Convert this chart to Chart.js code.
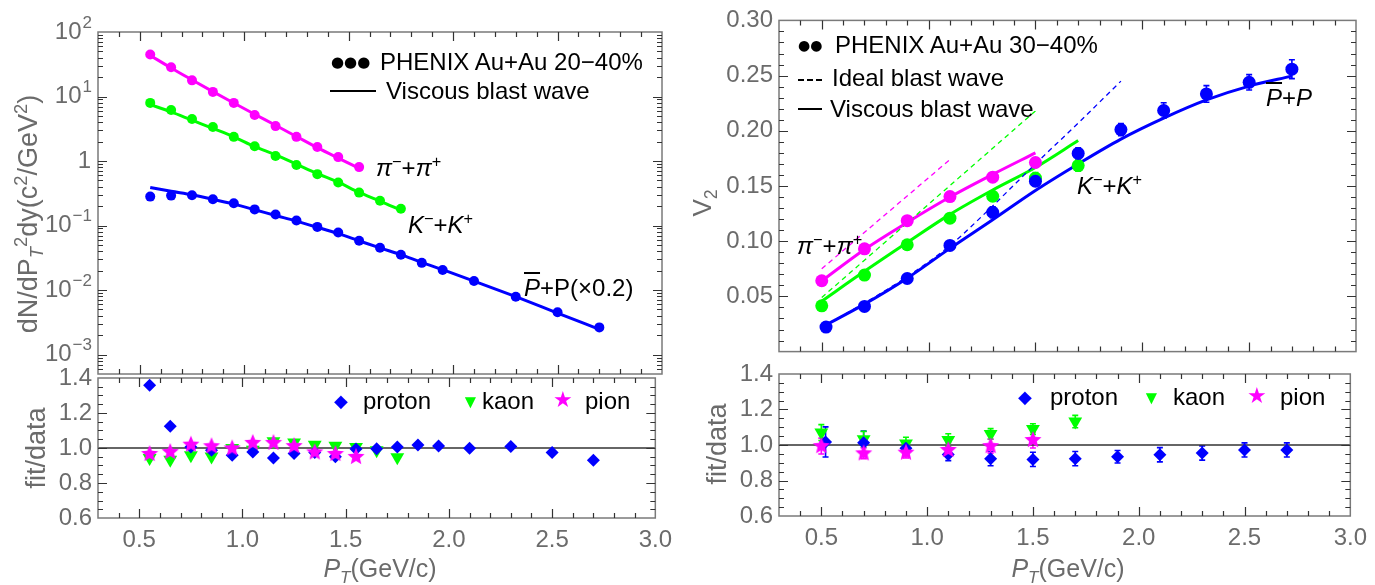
<!DOCTYPE html>
<html>
<head>
<meta charset="utf-8">
<script src="https://cdn.jsdelivr.net/npm/chart.js@4.4.0/dist/chart.umd.min.js"></script>
<style>
  body { margin: 0; background: #fff; }
  #fig { position: relative; width: 1375px; height: 585px; overflow: hidden;
         font-family: "Liberation Sans", Arial, sans-serif; }
  .box { position: absolute; }
  .t { position: absolute; white-space: nowrap; font-size: 24px; line-height: 1; color: #000;
       transform: translateY(-50%); }
  .dots { font-family: "DejaVu Sans", sans-serif; }
  .ax { position: absolute; white-space: nowrap; color: #6b6b6b; line-height: 1; }
  .rot { transform: translate(-50%, -50%) rotate(-90deg); }
  .hx { transform: translate(-50%, -50%); }
  sup, sub { font-size: 68%; line-height: 0; }
  .ln { position: absolute; height: 2px; background: #000; }
  .dash { position: absolute; height: 2px;
          background: repeating-linear-gradient(to right, #000 0 6px, transparent 6px 9px); }
</style>
</head>
<body>
<div id="fig">
  <div class="box" style="left:0;top:0;width:680px;height:380px"><canvas id="specChart" width="680" height="380"></canvas></div>
  <div class="box" style="left:0;top:356px;width:680px;height:229px"><canvas id="specRatio" width="680" height="229"></canvas></div>
  <div class="box" style="left:690px;top:0;width:685px;height:372px"><canvas id="v2Chart" width="685" height="372"></canvas></div>
  <div class="box" style="left:690px;top:352px;width:685px;height:233px"><canvas id="v2Ratio" width="685" height="233"></canvas></div>

  <!-- axis titles -->
  <div class="ax rot" style="left:28px;top:214px;font-size:27px">dN/dP<sub><i>T</i></sub><sup>2</sup>dy(c<sup>2</sup>/GeV<sup>2</sup>)</div>
  <div class="ax rot" style="left:36px;top:448px;font-size:27px">fit/data</div>
  <div class="ax hx" style="left:380px;top:568px;font-size:25px"><i>P</i><sub><i>T</i></sub>(GeV/c)</div>
  <div class="ax rot" style="left:702px;top:203px;font-size:26px">V<sub>2</sub></div>
  <div class="ax rot" style="left:717px;top:444px;font-size:27px">fit/data</div>
  <div class="ax hx" style="left:1068px;top:568px;font-size:25px"><i>P</i><sub><i>T</i></sub>(GeV/c)</div>

  <!-- left legend + labels -->
  <div class="t dots" style="left:331px;top:62px;font-size:15px">●●●</div>
  <div class="t" style="left:380px;top:62px">PHENIX Au+Au 20−40%</div>
  <div class="ln" style="left:330px;top:90px;width:46px"></div>
  <div class="t" style="left:386px;top:91px">Viscous blast wave</div>
  <div class="t" style="left:376px;top:168px"><i>π</i><sup>−</sup>+<i>π</i><sup>+</sup></div>
  <div class="t" style="left:408px;top:225px"><i>K</i><sup>−</sup>+<i>K</i><sup>+</sup></div>
  <div class="t" style="left:524px;top:288px"><span style="text-decoration:overline"><i>P</i></span>+P(×0.2)</div>

  <div class="t" style="left:334px;top:401px;font-size:18px;color:#0000ff">◆</div>
  <div class="t" style="left:363px;top:401px">proton</div>
  <div class="t" style="left:461px;top:401px;font-size:19px;color:#00ff00">▼</div>
  <div class="t" style="left:482px;top:401px">kaon</div>
  <div class="t" style="left:553px;top:400px;font-size:22px;color:#ff00ff">★</div>
  <div class="t" style="left:585px;top:401px">pion</div>

  <!-- right legend + labels -->
  <div class="t dots" style="left:798px;top:45px;font-size:14px">●●</div>
  <div class="t" style="left:835px;top:45px">PHENIX Au+Au 30−40%</div>
  <div class="dash" style="left:798px;top:79px;width:24px"></div>
  <div class="t" style="left:832px;top:78px">Ideal blast wave</div>
  <div class="ln" style="left:798px;top:108px;width:24px"></div>
  <div class="t" style="left:830px;top:109px">Viscous blast wave</div>
  <div class="t" style="left:797px;top:246px"><i>π</i><sup>−</sup>+<i>π</i><sup>+</sup></div>
  <div class="t" style="left:1077px;top:186px"><i>K</i><sup>−</sup>+<i>K</i><sup>+</sup></div>
  <div class="t" style="left:1266px;top:98px"><span style="text-decoration:overline"><i>P</i></span>+<i>P</i></div>

  <div class="t" style="left:1018px;top:397px;font-size:18px;color:#0000ff">◆</div>
  <div class="t" style="left:1050px;top:397px">proton</div>
  <div class="t" style="left:1142px;top:397px;font-size:19px;color:#00ff00">▼</div>
  <div class="t" style="left:1173px;top:397px">kaon</div>
  <div class="t" style="left:1247px;top:396px;font-size:22px;color:#ff00ff">★</div>
  <div class="t" style="left:1280px;top:397px">pion</div>
</div>

<script>
// ---- spectra, PHENIX Au+Au 20-40% ----
const pionPt = [0.55, 0.65, 0.75, 0.85, 0.95, 1.05, 1.15, 1.25, 1.35, 1.45, 1.55];
const pionSpec = [44.8, 28.4, 17.8, 11.8, 7.96, 5.17, 3.48, 2.37, 1.65, 1.15, 0.805];
const pionSpecFit = [43.3, 27.7, 18.1, 11.9, 7.94, 5.32, 3.58, 2.40, 1.61, 1.11, 0.77];
const pionRatio = [0.966, 0.977, 1.019, 1.010, 0.998, 1.029, 1.029, 1.011, 0.975, 0.966, 0.949];

const kaonPt = [0.55, 0.65, 0.75, 0.85, 0.95, 1.05, 1.15, 1.25, 1.35, 1.45, 1.55, 1.65, 1.75];
const kaonSpec = [7.96, 6.19, 4.48, 3.36, 2.37, 1.69, 1.20, 0.866, 0.626, 0.464, 0.324, 0.243, 0.182];
const kaonSpecFit = [7.5, 5.78, 4.29, 3.2, 2.37, 1.67, 1.25, 0.894, 0.638, 0.47, 0.326, 0.24, 0.172];
const kaonRatio = [0.943, 0.933, 0.958, 0.952, 1.0, 0.99, 1.038, 1.032, 1.019, 1.013, 1.006, 0.987, 0.947];

const protonPt = [0.55, 0.65, 0.75, 0.85, 0.95, 1.05, 1.15, 1.25, 1.35, 1.45, 1.55, 1.65, 1.75, 1.85, 1.95, 2.1, 2.3, 2.5, 2.7];
const protonSpec = [0.281, 0.291, 0.294, 0.255, 0.221, 0.178, 0.148, 0.120, 0.0953, 0.0778, 0.0583, 0.0453, 0.0352, 0.0264, 0.0205, 0.0138, 0.00787, 0.00453, 0.00264];
const protonSpecFit = [0.39, 0.34, 0.30, 0.256, 0.215, 0.176, 0.143, 0.117, 0.094, 0.075, 0.058, 0.045, 0.0354, 0.0268, 0.0207, 0.0138, 0.0079, 0.0044, 0.00246];
const protonRatio = [1.358, 1.124, 1.006, 0.987, 0.958, 0.977, 0.943, 0.968, 0.975, 0.950, 0.994, 0.996, 1.006, 1.017, 1.011, 0.998, 1.008, 0.975, 0.930];

// ---- v2, PHENIX Au+Au 30-40% ----
const v2PionPt = [0.5, 0.7, 0.9, 1.1, 1.3, 1.5];
const v2Pion = [0.0642, 0.0931, 0.1186, 0.1404, 0.158, 0.1713];
const v2PionErr = [0.002, 0.002, 0.003, 0.004, 0.004, 0.004];
const v2PionVisc = [0.064, 0.0925, 0.117, 0.140, 0.1605, 0.180];
const v2PionIdealPt = [0.5, 1.1];
const v2PionIdeal = [0.075, 0.174];
const v2PionRatio = [0.994, 0.953, 0.957, 0.972, 0.994, 1.028];
const v2PionRatioErr = [0.045, 0.03, 0.03, 0.04, 0.04, 0.045];

const v2KaonPt = [0.5, 0.7, 0.9, 1.1, 1.3, 1.5, 1.7];
const v2Kaon = [0.0415, 0.0693, 0.0968, 0.1209, 0.1407, 0.1571, 0.1685];
const v2KaonErr = [0.002, 0.002, 0.002, 0.003, 0.004, 0.005, 0.005];
const v2KaonVisc = [0.0457, 0.0727, 0.0988, 0.1243, 0.1464, 0.1668, 0.1912];
const v2KaonIdealPt = [0.5, 1.5];
const v2KaonIdeal = [0.049, 0.218];
const v2KaonRatio = [1.07, 1.032, 1.009, 1.028, 1.062, 1.09, 1.132];
const v2KaonRatioErr = [0.045, 0.045, 0.035, 0.035, 0.03, 0.03, 0.035];

const v2ProtonPt = [0.52, 0.7, 0.9, 1.1, 1.3, 1.5, 1.7, 1.9, 2.1, 2.3, 2.5, 2.7];
const v2Proton = [0.0222, 0.0409, 0.0662, 0.0962, 0.1262, 0.1543, 0.1795, 0.2011, 0.2184, 0.2334, 0.2439, 0.2558];
const v2ProtonErr = [0.002, 0.002, 0.003, 0.003, 0.005, 0.004, 0.005, 0.0055, 0.007, 0.0075, 0.007, 0.0085];
const v2ProtonViscPt = [0.5, 0.7, 0.9, 1.1, 1.3, 1.5, 1.7, 1.9, 2.1, 2.3, 2.5, 2.7];
const v2ProtonVisc = [0.0222, 0.043, 0.0665, 0.0935, 0.1195, 0.146, 0.170, 0.1925, 0.2115, 0.228, 0.2405, 0.2495];
const v2ProtonIdealPt = [0.5, 0.7, 0.9, 1.1, 1.3, 1.5, 1.7, 1.9];
const v2ProtonIdeal = [0.022, 0.044, 0.068, 0.096, 0.132, 0.170, 0.207, 0.245];
const v2ProtonRatio = [1.017, 1.013, 0.981, 0.947, 0.923, 0.919, 0.923, 0.934, 0.945, 0.955, 0.972, 0.972];
const v2ProtonRatioErr = [0.085, 0.065, 0.04, 0.035, 0.04, 0.04, 0.04, 0.035, 0.04, 0.04, 0.04, 0.04];

// ---- axes ----
const ptRange = [0.3, 3.0];
const ptTicks = [0.5, 1.0, 1.5, 2.0, 2.5, 3.0];
const specRange = [5e-4, 100];
const specTicks = [100, 10, 1, 0.1, 0.01, 0.001];
const ratioRange = [0.6, 1.4];
const ratioTicks = [0.6, 0.8, 1.0, 1.2, 1.4];
const v2Range = [0, 0.30];
const v2Ticks = [0.05, 0.10, 0.15, 0.20, 0.25, 0.30];

const MAG = '#ff00ff', GRN = '#00ff00', BLU = '#0000ff';
const GRAY = '#6b6b6b';

Chart.defaults.font.family = '"Liberation Sans", Arial, sans-serif';
Chart.defaults.animation = false;

const pts = (xs, ys) => xs.map((x, i) => ({ x, y: ys[i] }));

function starImage(r, color) {
  const c = document.createElement('canvas');
  c.width = c.height = 2 * r + 2;
  const g = c.getContext('2d');
  g.fillStyle = color;
  g.beginPath();
  for (let i = 0; i < 10; i++) {
    const rad = i % 2 ? r * 0.45 : r;
    const a = -Math.PI / 2 + i * Math.PI / 5;
    g.lineTo(r + 1 + rad * Math.cos(a), r + 1 + rad * Math.sin(a));
  }
  g.closePath();
  g.fill();
  return c;
}
const starPt = starImage(9, MAG);

// error bars drawn under the markers
const errorBars = {
  id: 'errorBars',
  beforeDatasetsDraw(chart) {
    const { ctx, scales: { x, y } } = chart;
    chart.data.datasets.forEach(ds => {
      if (!ds.errors) return;
      ctx.save();
      ctx.strokeStyle = ds.errColor;
      ctx.lineWidth = 1.6;
      ds.data.forEach((p, j) => {
        const e = ds.errors[j];
        const px = x.getPixelForValue(p.x);
        const top = y.getPixelForValue(p.y + e), bot = y.getPixelForValue(p.y - e);
        ctx.beginPath();
        ctx.moveTo(px, top); ctx.lineTo(px, bot);
        ctx.moveTo(px - 3, top); ctx.lineTo(px + 3, top);
        ctx.moveTo(px - 3, bot); ctx.lineTo(px + 3, bot);
        ctx.stroke();
      });
      ctx.restore();
    });
  }
};

// frame with inward ticks on all four sides (Mathematica style)
const frame = {
  id: 'frame',
  afterDatasetsDraw(chart, args, o) {
    const { ctx, chartArea: a, scales: { x, y } } = chart;
    ctx.save();
    ctx.strokeStyle = '#7a7a7a';
    ctx.lineWidth = 1.5;
    ctx.strokeRect(a.left, a.top, a.right - a.left, a.bottom - a.top);
    ctx.strokeStyle = '#333';
    ctx.lineWidth = 1.2;
    const xt = (px, len) => {
      ctx.beginPath();
      ctx.moveTo(px, a.bottom); ctx.lineTo(px, a.bottom - len);
      ctx.moveTo(px, a.top); ctx.lineTo(px, a.top + len);
      ctx.stroke();
    };
    const yt = (py, len) => {
      ctx.beginPath();
      ctx.moveTo(a.left, py); ctx.lineTo(a.left + len, py);
      ctx.moveTo(a.right, py); ctx.lineTo(a.right - len, py);
      ctx.stroke();
    };
    const n = Math.round((x.max - x.min) / 0.1);
    for (let i = 1; i < n; i++) {
      const v = x.min + i * 0.1;
      const major = Math.abs(v * 2 - Math.round(v * 2)) < 1e-6;
      xt(Math.round(x.getPixelForValue(v)) + 0.5, major ? 9 : 5);
    }
    if (o.log) {
      for (let e = -4; e <= 2; e++) {
        for (let k = 1; k <= 9; k++) {
          const v = k * Math.pow(10, e);
          if (v <= y.min || v >= y.max) continue;
          yt(Math.round(y.getPixelForValue(v)) + 0.5, k === 1 ? 9 : 5);
        }
      }
      // decade labels 10^n, right aligned next to the frame
      ctx.fillStyle = GRAY;
      ctx.textBaseline = 'middle';
      ctx.textAlign = 'right';
      o.labels.forEach(v => {
        const py = y.getPixelForValue(v);
        const ex = Math.round(Math.log10(v));
        if (ex === 0) {
          ctx.font = '24px "Liberation Sans", Arial';
          ctx.fillText('1', a.left - 7, py);
          return;
        }
        const es = ex < 0 ? '\u2212' + (-ex) : String(ex);
        ctx.font = '17px "Liberation Sans", Arial';
        const ew = ctx.measureText(es).width;
        ctx.fillText(es, a.left - 6, py - 9);
        ctx.font = '24px "Liberation Sans", Arial';
        ctx.fillText('10', a.left - 7 - ew, py);
      });
    } else {
      const m = Math.round((y.max - y.min) / o.yMinor);
      for (let i = 1; i < m; i++) {
        const v = y.min + i * o.yMinor;
        const r = v / o.yMajor;
        const major = Math.abs(r - Math.round(r)) < 1e-6;
        yt(Math.round(y.getPixelForValue(v)) + 0.5, major ? 9 : 5);
      }
    }
    ctx.restore();
  }
};

function xAxis(show, height) {
  return {
    type: 'linear', min: ptRange[0], max: ptRange[1], display: show,
    grid: { display: false, drawTicks: false }, border: { display: false },
    afterBuildTicks: s => { s.ticks = ptTicks.map(v => ({ value: v })); },
    ticks: { autoSkip: false, maxRotation: 0, padding: 8, color: GRAY, font: { size: 24 },
             callback: v => v.toFixed(1) },
    afterFit: s => { s.height = height; }
  };
}

function yAxis(range, tickVals, digits, width) {
  return {
    type: 'linear', min: range[0], max: range[1],
    grid: { display: false, drawTicks: false }, border: { display: false },
    afterBuildTicks: s => { s.ticks = tickVals.map(v => ({ value: v })); },
    ticks: { autoSkip: false, padding: 6, color: GRAY, font: { size: 24 },
             callback: v => v.toFixed(digits) },
    afterFit: s => { s.width = width; }
  };
}

const line = (xs, ys, color, w, dash) => ({
  data: pts(xs, ys), showLine: true, pointRadius: 0, borderColor: color, borderWidth: w,
  borderDash: dash || [], cubicInterpolationMode: 'monotone', order: 3
});
const dots = (xs, ys, color, r, errs) => ({
  data: pts(xs, ys), showLine: false, pointStyle: 'circle', pointRadius: r,
  backgroundColor: color, borderColor: color, borderWidth: 0,
  errors: errs, errColor: color, order: 1
});
const unity = { data: [{ x: ptRange[0], y: 1 }, { x: ptRange[1], y: 1 }], showLine: true,
                pointRadius: 0, borderColor: '#333', borderWidth: 1.3, order: 4 };
const diamonds = (xs, ys, errs) => ({
  data: pts(xs, ys), showLine: false, pointStyle: 'rectRot', pointRadius: 6.5,
  backgroundColor: BLU, borderWidth: 0, errors: errs, errColor: BLU, order: 1
});
const triangles = (xs, ys, errs) => ({
  data: pts(xs, ys), showLine: false, pointStyle: 'triangle', rotation: 180, pointRadius: 8,
  backgroundColor: GRN, borderWidth: 0, errors: errs, errColor: GRN, order: 1
});
const stars = (xs, ys, errs) => ({
  data: pts(xs, ys), showLine: false, pointStyle: starPt, pointRadius: 9,
  backgroundColor: MAG, borderWidth: 0, errors: errs, errColor: MAG, order: 0
});

const common = (padding, plugOpts) => ({
  responsive: false,
  layout: { padding },
  plugins: { legend: { display: false }, tooltip: { enabled: false }, frame: plugOpts }
});

// dN/dpT spectra
new Chart(document.getElementById('specChart'), {
  type: 'scatter',
  data: { datasets: [
    line(pionPt, pionSpecFit, MAG, 3),
    line(kaonPt, kaonSpecFit, GRN, 3),
    line(protonPt, protonSpecFit, BLU, 3),
    dots(pionPt, pionSpec, MAG, 5),
    dots(kaonPt, kaonSpec, GRN, 5),
    dots(protonPt, protonSpec, BLU, 5)
  ] },
  options: {
    ...common({ top: 32, right: 18, bottom: 6, left: 0 }, { log: true, labels: specTicks }),
    scales: {
      x: xAxis(false, 0),
      y: { type: 'logarithmic', min: specRange[0], max: specRange[1],
           grid: { display: false, drawTicks: false }, border: { display: false },
           ticks: { display: false }, afterFit: s => { s.width = 98; } }
    }
  },
  plugins: [errorBars, frame]
});

// spectra fit/data
new Chart(document.getElementById('specRatio'), {
  type: 'scatter',
  data: { datasets: [
    unity,
    diamonds(protonPt, protonRatio),
    triangles(kaonPt, kaonRatio),
    stars(pionPt, pionRatio)
  ] },
  options: {
    ...common({ top: 22, right: 18, bottom: 0, left: 0 }, { yMinor: 0.05, yMajor: 0.2 }),
    scales: { x: xAxis(true, 67), y: yAxis(ratioRange, ratioTicks, 1, 98) }
  },
  plugins: [errorBars, frame]
});

// v2
new Chart(document.getElementById('v2Chart'), {
  type: 'scatter',
  data: { datasets: [
    line(v2PionIdealPt, v2PionIdeal, MAG, 1.3, [5, 4]),
    line(v2KaonIdealPt, v2KaonIdeal, GRN, 1.3, [5, 4]),
    line(v2ProtonIdealPt, v2ProtonIdeal, BLU, 1.3, [5, 4]),
    line(v2PionPt, v2PionVisc, MAG, 3),
    line(v2KaonPt, v2KaonVisc, GRN, 3),
    line(v2ProtonViscPt, v2ProtonVisc, BLU, 3),
    dots(v2ProtonPt, v2Proton, BLU, 6.5, v2ProtonErr),
    dots(v2KaonPt, v2Kaon, GRN, 6.5, v2KaonErr),
    dots(v2PionPt, v2Pion, MAG, 6.5, v2PionErr)
  ] },
  options: {
    ...common({ top: 16, right: 19, bottom: 4, left: 0 }, { yMinor: 0.01, yMajor: 0.05 }),
    scales: { x: xAxis(false, 0), y: yAxis(v2Range, v2Ticks, 2, 89) }
  },
  plugins: [errorBars, frame]
});

// v2 fit/data
new Chart(document.getElementById('v2Ratio'), {
  type: 'scatter',
  data: { datasets: [
    unity,
    diamonds(v2ProtonPt, v2ProtonRatio, v2ProtonRatioErr),
    triangles(v2KaonPt, v2KaonRatio, v2KaonRatioErr),
    stars(v2PionPt, v2PionRatio, v2PionRatioErr)
  ] },
  options: {
    ...common({ top: 22, right: 19, bottom: 0, left: 0 }, { yMinor: 0.05, yMajor: 0.2 }),
    scales: { x: xAxis(true, 69), y: yAxis(ratioRange, ratioTicks, 1, 89) }
  },
  plugins: [errorBars, frame]
});
</script>
</body>
</html>
